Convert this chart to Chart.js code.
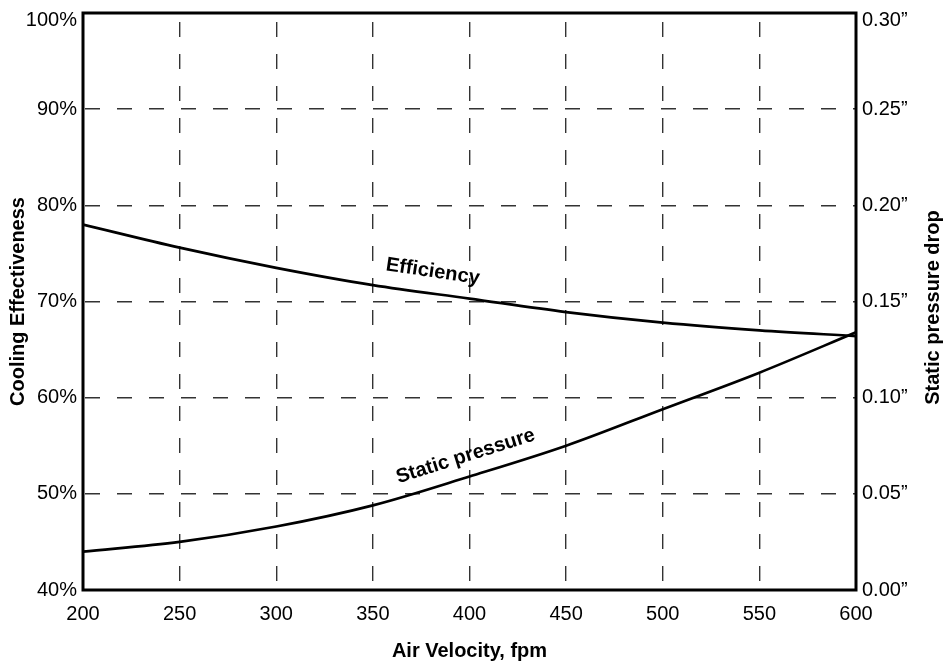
<!DOCTYPE html>
<html>
<head>
<meta charset="utf-8">
<script src="https://cdn.jsdelivr.net/npm/chart.js@4.4.1/dist/chart.umd.min.js"></script>
<style>
  html, body { margin: 0; padding: 0; background: #fff; }
  #wrap { width: 946px; height: 671px; }
</style>
</head>
<body>
<div id="wrap"><canvas id="chart" width="946" height="671"></canvas></div>
<script>
const velocity = [200, 250, 300, 350, 400, 450, 500, 550, 600]
const efficiency = [78.0, 75.6, 73.5, 71.7, 70.3, 68.9, 67.8, 67.0, 66.4]
const staticPressure = [0.020, 0.025, 0.033, 0.044, 0.059, 0.075, 0.094, 0.113, 0.134]
const leftTicks = [40, 50, 60, 70, 80, 90, 100]
const rightTicks = [0, 0.05, 0.10, 0.15, 0.20, 0.25, 0.30]

// curve labels, placed in data coordinates
const curveLabels = [
    { text: "Efficiency", x: 381, y: 73.1, axis: "y", angle: 8.5 },
    { text: "Static pressure", x: 398, y: 53.9, axis: "y", angle: -17.5 },
]

const FONT = "'Liberation Sans', Arial, Helvetica, sans-serif"
const TITLE_SIZE = 20
const TICK_SIZE = 20

// the top tick label sits just below the frame line, as in the print
const tickFont = (ctx, topValue) => ({
    family: FONT, size: TICK_SIZE,
    lineHeight: ctx.tick && ctx.tick.value === topValue ? 0.7 : 1.2
})

const frame = {
    id: "frame",
    afterDatasetsDraw(chart) {
        const { ctx, chartArea: a } = chart
        ctx.save()
        ctx.strokeStyle = "#000"
        ctx.lineWidth = 3
        ctx.strokeRect(a.left, a.top, a.right - a.left, a.bottom - a.top)

        // curve labels
        ctx.fillStyle = "#000"
        ctx.font = "bold 20px " + FONT
        ctx.textAlign = "center"
        ctx.textBaseline = "middle"
        curveLabels.forEach((l) => {
            const px = chart.scales.x.getPixelForValue(l.x)
            const py = chart.scales[l.axis].getPixelForValue(l.y)
            ctx.save()
            ctx.translate(px, py)
            ctx.rotate(l.angle * Math.PI / 180)
            ctx.fillText(l.text, 0, 0)
            ctx.restore()
        })

        // right axis title, reading bottom to top
        ctx.font = "bold " + TITLE_SIZE + "px " + FONT
        ctx.translate(933, (a.top + a.bottom) / 2 + 6)
        ctx.rotate(-Math.PI / 2)
        ctx.fillText("Static pressure drop", 0, 0)
        ctx.restore()
    }
}

new Chart(document.getElementById("chart"), {
    type: "line",
    data: {
        datasets: [
            {
                label: "Efficiency",
                data: velocity.map((v, i) => ({ x: v, y: efficiency[i] })),
                yAxisID: "y",
                borderColor: "#000",
                borderWidth: 2.7,
                pointRadius: 0,
                cubicInterpolationMode: "monotone",
            },
            {
                label: "Static pressure",
                data: velocity.map((v, i) => ({ x: v, y: staticPressure[i] })),
                yAxisID: "y2",
                borderColor: "#000",
                borderWidth: 2.7,
                pointRadius: 0,
                cubicInterpolationMode: "monotone",
            },
        ]
    },
    options: {
        responsive: false,
        animation: false,
        layout: { padding: { top: 13, left: 0, right: 0, bottom: 0 } },
        plugins: { legend: { display: false }, tooltip: { enabled: false } },
        scales: {
            x: {
                type: "linear",
                min: 200, max: 600,
                afterFit(scale) { scale.height = 81 },
                afterBuildTicks(scale) { scale.ticks = velocity.map((v) => ({ value: v })) },
                grid: { color: "#333", lineWidth: 1.4, drawTicks: false },
                border: { display: false, dash: [15, 17], dashOffset: 23 },
                ticks: { color: "#000", font: { family: FONT, size: TICK_SIZE }, padding: 12 },
                title: {
                    display: true, text: "Air Velocity, fpm", color: "#000",
                    font: { family: FONT, size: TITLE_SIZE, weight: "bold" },
                    padding: { top: 0, bottom: 8 }
                }
            },
            y: {
                position: "left",
                min: 40, max: 100,
                afterFit(scale) { scale.width = 83; scale.paddingTop = 0; scale.paddingBottom = 0 },
                afterBuildTicks(scale) { scale.ticks = leftTicks.map((v) => ({ value: v })) },
                grid: { color: "#333", lineWidth: 1.4, drawTicks: false },
                border: { display: false, dash: [15, 17], dashOffset: -2 },
                ticks: {
                    color: "#000", padding: 6,
                    font: (ctx) => tickFont(ctx, 100),
                    callback: (v) => v === 100 ? ["", v + "%"] : v + "%"
                },
                title: {
                    display: true, text: "Cooling Effectiveness", color: "#000",
                    font: { family: FONT, size: TITLE_SIZE, weight: "bold" },
                    padding: { top: 6, bottom: 0 }
                }
            },
            y2: {
                position: "right",
                min: 0, max: 0.30,
                afterFit(scale) { scale.width = 90; scale.paddingTop = 0; scale.paddingBottom = 0 },
                afterBuildTicks(scale) { scale.ticks = rightTicks.map((v) => ({ value: v })) },
                grid: { display: false, drawTicks: false },
                border: { display: false },
                ticks: {
                    color: "#000", padding: 6,
                    font: (ctx) => tickFont(ctx, 0.30),
                    callback: (v) => v === 0.30 ? ["", v.toFixed(2) + "\u201D"] : v.toFixed(2) + "\u201D"
                }
            }
        }
    },
    plugins: [frame]
})
</script>
</body>
</html>
